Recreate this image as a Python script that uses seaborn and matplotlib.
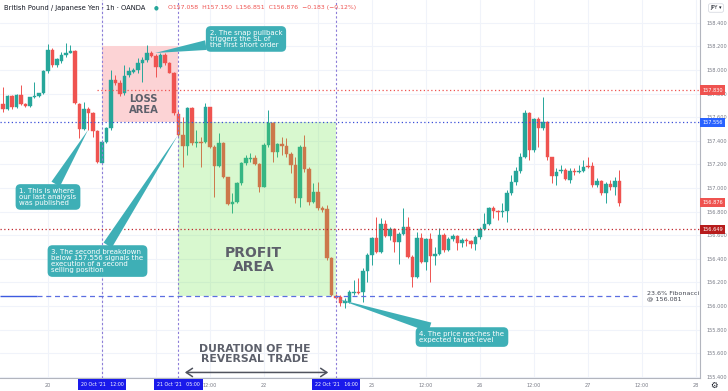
import numpy as np
import pandas as pd
import matplotlib
matplotlib.use("Agg")
import matplotlib.pyplot as plt
import matplotlib.transforms as mtransforms
from matplotlib.patches import Rectangle
import seaborn as sns

# ---------------- data (GBP/JPY, 1h candles, 19 Oct 14:00 -> 27 Oct 07:00) -------------
opens = [157.712, 157.672, 157.780, 157.684, 157.786, 157.712, 157.695, 157.769, 157.780, 157.803,
         157.989, 158.169, 158.040, 158.079, 158.130, 158.147, 158.164, 157.712, 157.497, 157.667,
         157.638, 157.486, 157.214, 157.392, 157.506, 157.915, 157.892, 157.803, 157.955, 157.986,
         158.000, 158.057, 158.085, 158.147, 158.119, 158.023, 158.125, 158.062, 157.977, 157.627,
         157.447, 157.356, 157.678, 157.379, 157.390, 157.390, 157.684, 157.350, 157.186, 157.379,
         157.091, 156.864, 156.884, 157.040, 157.209, 157.246, 157.252, 157.203, 157.011, 157.364,
         157.553, 157.308, 157.373, 157.356, 157.288, 157.195, 156.913, 157.350, 157.158, 156.884,
         156.969, 156.828, 156.822, 156.404, 156.085, 156.074, 156.023, 156.036, 156.113, 156.121,
         156.121, 156.299, 156.432, 156.574, 156.460, 156.695, 156.593, 156.650, 156.545, 156.610,
         156.672, 156.413, 156.243, 156.574, 156.375, 156.565, 156.424, 156.441, 156.602, 156.475,
         156.565, 156.593, 156.531, 156.559, 156.548, 156.525, 156.582, 156.650, 156.695, 156.828,
         156.808, 156.799, 156.808, 156.960, 157.051, 157.147, 157.260, 157.633, 157.322, 157.582,
         157.506, 157.562, 157.260, 157.102, 157.147, 157.153, 157.068, 157.147, 157.138, 157.147,
         157.186, 157.186, 157.023, 157.057, 156.960, 157.034, 157.006, 157.058]
highs = [157.858, 157.788, 157.788, 157.794, 157.873, 157.718, 157.774, 157.901, 157.808, 158.000,
         158.220, 158.184, 158.099, 158.155, 158.226, 158.212, 158.169, 157.718, 157.731, 157.689,
         157.647, 157.492, 157.407, 157.519, 158.000, 157.958, 157.915, 158.042, 158.028, 158.014,
         158.099, 158.113, 158.212, 158.164, 158.136, 158.142, 158.142, 158.071, 157.986, 157.661,
         157.599, 157.684, 157.684, 157.492, 157.435, 157.723, 157.689, 157.364, 157.464, 157.392,
         157.096, 156.955, 157.053, 157.223, 157.280, 157.294, 157.280, 157.214, 157.379, 157.661,
         157.562, 157.379, 157.435, 157.421, 157.308, 157.265, 157.364, 157.449, 157.181, 157.040,
         157.053, 156.847, 156.856, 156.418, 156.102, 156.093, 156.065, 156.136, 156.220, 156.235,
         156.319, 156.447, 156.587, 156.757, 156.743, 156.729, 156.672, 156.658, 156.630, 156.828,
         156.757, 156.432, 156.630, 156.616, 156.574, 156.616, 156.503, 156.658, 156.616, 156.587,
         156.610, 156.602, 156.574, 156.574, 156.559, 156.602, 156.672, 156.786, 156.842, 156.847,
         156.814, 156.870, 156.983, 157.110, 157.181, 157.294, 157.661, 157.647, 157.591, 157.602,
         157.774, 157.570, 157.265, 157.167, 157.195, 157.167, 157.167, 157.167, 157.195, 157.237,
         157.265, 157.223, 157.082, 157.068, 157.053, 157.068, 157.096, 157.150]
lows = [157.647, 157.661, 157.669, 157.675, 157.703, 157.684, 157.684, 157.760, 157.774, 157.797,
        157.972, 158.023, 158.028, 158.057, 158.113, 158.142, 157.712, 157.421, 157.492, 157.492,
        157.435, 157.209, 157.209, 157.379, 157.492, 157.873, 157.780, 157.788, 157.943, 157.972,
        157.972, 157.901, 158.071, 158.113, 157.943, 158.014, 158.042, 157.972, 157.619, 157.435,
        157.181, 157.280, 157.364, 157.350, 157.181, 157.379, 157.336, 156.926, 157.181, 157.082,
        156.856, 156.786, 156.870, 157.025, 157.195, 157.223, 157.195, 156.969, 157.006, 157.350,
        157.223, 157.265, 157.280, 157.265, 157.125, 156.870, 156.842, 157.138, 156.856, 156.870,
        156.814, 156.797, 156.390, 156.085, 156.057, 156.000, 155.981, 156.023, 156.093, 156.102,
        156.036, 156.206, 156.347, 156.447, 156.447, 156.587, 156.559, 156.460, 156.356, 156.602,
        156.404, 156.158, 156.235, 156.362, 156.305, 156.206, 156.347, 156.432, 156.460, 156.469,
        156.553, 156.475, 156.503, 156.508, 156.489, 156.475, 156.565, 156.644, 156.686, 156.743,
        156.729, 156.757, 156.714, 156.941, 157.025, 157.125, 157.252, 157.237, 157.308, 157.350,
        157.492, 157.237, 157.040, 157.025, 157.125, 157.068, 157.040, 157.110, 157.125, 157.138,
        157.167, 157.011, 157.011, 156.941, 156.870, 156.983, 156.941, 156.851]
closes = [157.669, 157.780, 157.684, 157.786, 157.712, 157.695, 157.769, 157.780, 157.803, 157.989,
          158.169, 158.040, 158.091, 158.130, 158.147, 158.158, 157.718, 157.497, 157.667, 157.638,
          157.486, 157.220, 157.392, 157.511, 157.915, 157.892, 157.794, 157.949, 157.994, 158.000,
          158.057, 158.085, 158.142, 158.119, 158.023, 158.125, 158.057, 157.977, 157.633, 157.447,
          157.356, 157.678, 157.379, 157.390, 157.379, 157.684, 157.350, 157.186, 157.379, 157.091,
          156.864, 156.884, 157.040, 157.209, 157.252, 157.252, 157.203, 157.011, 157.364, 157.553,
          157.308, 157.373, 157.356, 157.288, 157.195, 156.913, 157.350, 157.158, 156.884, 156.969,
          156.828, 156.814, 156.404, 156.093, 156.065, 156.023, 156.045, 156.121, 156.121, 156.113,
          156.299, 156.432, 156.574, 156.460, 156.695, 156.593, 156.650, 156.545, 156.610, 156.672,
          156.413, 156.243, 156.574, 156.375, 156.565, 156.424, 156.441, 156.602, 156.475, 156.565,
          156.593, 156.531, 156.559, 156.548, 156.525, 156.582, 156.650, 156.695, 156.828, 156.808,
          156.799, 156.808, 156.960, 157.051, 157.147, 157.260, 157.633, 157.322, 157.582, 157.506,
          157.562, 157.260, 157.102, 157.138, 157.153, 157.074, 157.147, 157.136, 157.147, 157.175,
          157.175, 157.023, 157.057, 156.960, 157.034, 157.006, 157.062, 156.876]

tick_pos = [10, 22, 34, 46, 58, 70, 82, 94, 106, 118, 130, 142, 154]
tick_labels = ["20", "", "", "12:00", "22", "", "25", "12:00", "26", "12:00", "27", "12:00", "28"]
price_ticks = [155.4, 155.6, 155.8, 156.0, 156.2, 156.4, 156.6, 156.8, 157.0, 157.2, 157.4, 157.6,
               157.8, 158.0, 158.2, 158.4]

level_sl = 157.830
level_entry = 157.556
level_mid = 156.649
level_fib = 156.081
last_price = 156.876
loss_top = 158.206
event_bars = [22, 39, 74]
event_labels = ["20 Oct '21   12:00", "21 Oct '21   05:00", "22 Oct '21   16:00"]

# ---------------- style ----------------
sns.set_style("white")
plt.rcParams['font.family'] = ['DejaVu Sans']

UP = "#26a69a"
DOWN = "#ef5350"
TEAL = "#3eafb6"
GRID = "#f0f3fa"
TXT = "#787b86"
LABEL = "#5d606b"

fig = plt.figure(figsize=(7.28, 3.91), dpi=100)
ax = fig.add_axes([0, 13 / 391, 700 / 728, 378 / 391])

df = pd.DataFrame({"o": opens, "h": highs, "l": lows, "c": closes})
df["i"] = np.arange(len(df))
df["up"] = df["c"] >= df["o"]
df["col"] = np.where(df["up"], UP, DOWN)
body_lo = np.minimum(df["o"], df["c"])
body_h = np.maximum(np.abs(df["c"] - df["o"]), 0.008)

ax.vlines(df["i"], df["l"], df["h"], colors=df["col"], linewidth=0.7, zorder=2)
ax.bar(df["i"], body_h, bottom=body_lo, width=0.7, color=df["col"], edgecolor=df["col"],
       linewidth=0.3, zorder=2.5)

xmin, xmax = -0.667, 154.9
ax.set_xlim(xmin, xmax)
ax.set_ylim(155.390, 158.593)

# grid
for p in price_ticks:
    ax.axhline(p, color=GRID, lw=0.8, zorder=0)
for t in tick_pos:
    ax.axvline(t, color=GRID, lw=0.8, zorder=0)

# areas
ax.add_patch(Rectangle((event_bars[0], level_entry), event_bars[1] - event_bars[0], loss_top - level_entry,
                       fc="#fcd3d5", ec="none", zorder=1))
ax.add_patch(Rectangle((event_bars[1], level_fib), event_bars[2] - event_bars[1], level_entry - level_fib,
                       fc=(0.40, 0.90, 0.25), alpha=0.25, ec="none", zorder=3))

# vertical event lines
for b in event_bars:
    ax.axvline(b, color="#8c7dd8", lw=0.8, ls=(0, (2, 2)), zorder=4)

# horizontal levels
ax.hlines(level_sl, 21, xmax, color="#ef5350", lw=0.9, ls=(0, (1, 2)), zorder=4)
ax.hlines(level_entry, xmin, xmax, color="#3b4fd8", lw=0.9, ls=(0, (1, 2)), zorder=4)
ax.hlines(level_mid, xmin, xmax, color="#c0262c", lw=0.9, ls=(0, (1, 2)), zorder=4)
ax.hlines(level_fib, xmin, 7.5, color="#3d5ae0", lw=1.0, zorder=4)
ax.hlines(level_fib, 7.5, 141.5, color="#5b6ee1", lw=0.9, ls=(0, (4, 3)), zorder=4)
ax.text(143.1, level_fib, "23.6% Fibonacci\n@ 156.081", fontsize=4.6, color="#434651",
        ha="left", va="center", linespacing=1.0, zorder=5)

# area labels
ax.text(31.3, 157.708, "LOSS\nAREA", fontsize=7.2, fontweight="bold", color=LABEL,
        ha="center", va="center", linespacing=1.05, zorder=6)
ax.text(55.7, 156.394, "PROFIT\nAREA", fontsize=10, fontweight="bold", color=LABEL,
        ha="center", va="center", linespacing=1.0, zorder=6)
ax.text(55.9, 155.597, "DURATION OF THE\nREVERSAL TRADE", fontsize=7.8, fontweight="bold",
        color=LABEL, ha="center", va="center", linespacing=1.0, zorder=6)
ax.annotate("", xy=(72.9, 155.437), xytext=(39.8, 155.437),
            arrowprops=dict(arrowstyle="<->,head_length=0.45,head_width=0.3", color="#50535e", lw=1.1),
            zorder=6)

# callouts
def callout(text, tip, center):
    ax.annotate(text, xy=tip, xytext=center, xycoords="data", textcoords="data",
                ha="center", va="center", multialignment="left", fontsize=5, color="white",
                linespacing=1.0, zorder=20,
                bbox=dict(boxstyle="round,pad=0.55,rounding_size=0.7", fc=TEAL, ec="none"),
                arrowprops=dict(arrowstyle="wedge,tail_width=0.35,shrink_factor=0.5", fc=TEAL,
                                ec="none", mutation_scale=20, shrinkA=0, shrinkB=0))

callout("1. This is where\nour last analysis\nwas published", (18.9, 157.492), (10.0, 156.924))
callout("2. The snap pullback\ntriggers the SL of\nthe first short order", (33.8, 158.144), (54.0, 158.263))
callout("3. The second breakdown\nbelow 157.556 signals the\nexecution of a second\nselling position",
        (38.9, 157.449), (21.0, 156.381))
callout("4. The price reaches the\nexpected target level", (74.4, 156.059), (102.0, 155.737))

# axes / ticks
for s in ["top", "left"]:
    ax.spines[s].set_visible(False)
for s in ["right", "bottom"]:
    ax.spines[s].set_color("#b2b5be")
    ax.spines[s].set_linewidth(0.8)
ax.yaxis.tick_right()
ax.set_yticks(price_ticks)
ax.set_yticklabels([f"{p:.3f}" for p in price_ticks])
ax.set_xticks(tick_pos)
ax.set_xticklabels(tick_labels)
ax.tick_params(axis="y", length=0, pad=5, labelsize=3.6, labelcolor=TXT)
ax.tick_params(axis="x", length=0, pad=3.5, labelsize=3.6, labelcolor=TXT)

# right-axis price tags
ytr = mtransforms.blended_transform_factory(ax.transAxes, ax.transData)
for val, col in [(level_sl, "#ef5350"), (level_entry, "#2962ff"), (last_price, "#ef5350"),
                 (level_mid, "#b71c1c")]:
    ax.text(1.003, val, f"{val:.3f}", transform=ytr, fontsize=3.6, color="white", ha="left",
            va="center", clip_on=False, zorder=30,
            bbox=dict(boxstyle="square,pad=0.45", fc=col, ec="none"))

# bottom event tags
xtr = mtransforms.blended_transform_factory(ax.transData, ax.transAxes)
for b, lab in zip(event_bars, event_labels):
    ax.text(b, -0.0165, lab, transform=xtr, fontsize=3.4, color="white", ha="center", va="center",
            clip_on=False, zorder=30, bbox=dict(boxstyle="square,pad=0.6", fc="#1a1aeb", ec="none"))

# header
fig.text(4 / 728, 1 - 8 / 391, "British Pound / Japanese Yen · 1h · OANDA", fontsize=4.9,
         color="#131722", ha="left", va="center")
fig.text(156 / 728, 1 - 8 / 391, "●", fontsize=4, color="#26a69a", ha="center", va="center")
fig.text(168 / 728, 1 - 8 / 391, "O157.058  H157.150  L156.851  C156.876  −0.183 (−0.12%)",
         fontsize=4.4, color="#ef5350", ha="left", va="center")
fig.text(716 / 728, 1 - 8 / 391, "JPY ▾", fontsize=3.6, color="#131722", ha="center", va="center",
         bbox=dict(boxstyle="round,pad=0.35", fc="white", ec="#d1d4dc", lw=0.5))
fig.text(714 / 728, 6 / 391, "⚙", fontsize=6, color="#131722", ha="center", va="center")

fig.savefig("out.png", dpi=100)
